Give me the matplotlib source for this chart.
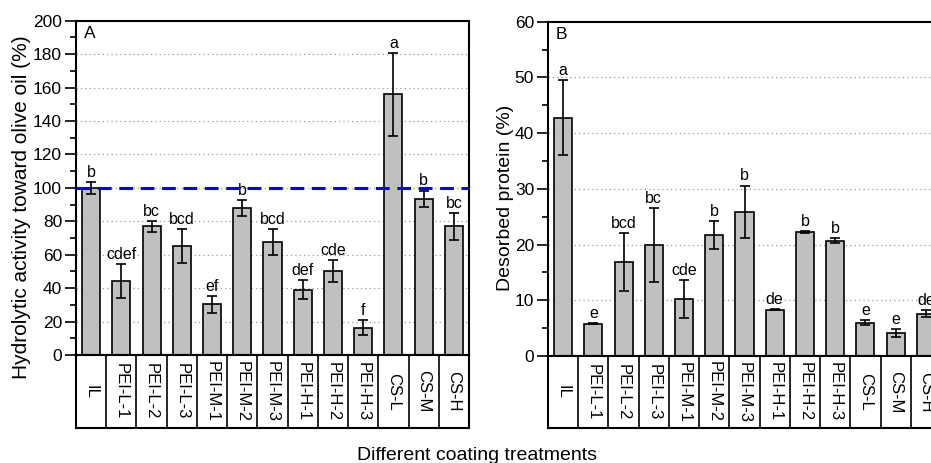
import matplotlib.pyplot as plt
import numpy as np
from matplotlib.ticker import MultipleLocator

plt.rcParams['font.family'] = ['Liberation Sans', 'DejaVu Sans']

treatments = ['IL', 'PEI-L-1', 'PEI-L-2', 'PEI-L-3', 'PEI-M-1', 'PEI-M-2', 'PEI-M-3',
              'PEI-H-1', 'PEI-H-2', 'PEI-H-3', 'CS-L', 'CS-M', 'CS-H']

# A: hydrolytic activity toward olive oil (%)
activity = [100, 44.3, 77, 65.3, 30.3, 88, 67.7, 39, 50.1, 16.4, 156, 93.6, 77]
activity_err = [3.5, 10, 3.2, 10, 5, 4.8, 7.6, 5.6, 6.6, 4.5, 24.7, 4.8, 8]
activity_sig = ['b', 'cdef', 'bc', 'bcd', 'ef', 'b', 'bcd', 'def', 'cde', 'f', 'a', 'b', 'bc']

# B: desorbed protein (%)
desorbed = [42.8, 5.8, 16.9, 19.9, 10.2, 21.7, 25.9, 8.3, 22.3, 20.7, 6.0, 4.1, 7.6]
desorbed_err = [6.8, 0.1, 5.2, 6.7, 3.4, 2.5, 4.7, 0.1, 0.2, 0.5, 0.5, 0.75, 0.6]
desorbed_sig = ['a', 'e', 'bcd', 'bc', 'cde', 'b', 'b', 'de', 'b', 'b', 'e', 'e', 'de']

W, H = 931, 463
fig = plt.figure(figsize=(W / 100, H / 100), dpi=100)


def panel(left_px, top_px, zero_px, values, errs, sig, ymax, major, minor, tag):
    x = np.arange(len(treatments))
    width_px = 393
    ax = fig.add_axes([left_px / W, 1 - zero_px / H, width_px / W, (zero_px - top_px) / H])
    ax.set_xlim(-0.5, len(treatments) - 0.5)
    ax.set_ylim(0, ymax)
    ax.yaxis.set_major_locator(MultipleLocator(major))
    ax.yaxis.set_minor_locator(MultipleLocator(minor))
    for y in np.arange(major, ymax, major):
        ax.axhline(y, color='#999999', lw=0.9, ls=(0, (1, 2.5)), zorder=0)
    ax.bar(x, values, width=0.6, color='#c0c0c0', edgecolor='black', linewidth=1.2, zorder=2)
    ax.errorbar(x, values, yerr=errs, fmt='none', ecolor='black', elinewidth=1.2,
                capsize=3.5, capthick=1.2, zorder=3)
    for xi, v, e, s in zip(x, values, errs, sig):
        ax.annotate(s, (xi, v + e), xytext=(0, 1.5), textcoords='offset points',
                    ha='center', va='bottom', fontsize=11.5)
    ax.set_xticks([])
    ax.tick_params(axis='y', which='major', direction='out', length=8, width=1.2, labelsize=12.5, pad=2)
    ax.tick_params(axis='y', which='minor', direction='out', length=4, width=1.2)
    for sp in ax.spines.values():
        sp.set_linewidth(1.5)
    ax.text(0.02, 0.985, tag, transform=ax.transAxes, ha='left', va='top', fontsize=12.5)

    # category table under the bars
    tab = fig.add_axes([left_px / W, 1 - 428 / H, width_px / W, (428 - zero_px) / H])
    tab.set_xlim(-0.5, len(treatments) - 0.5)
    tab.set_ylim(0, 1)
    tab.set_xticks([])
    tab.set_yticks([])
    for sp in tab.spines.values():
        sp.set_linewidth(1.5)
    for b in np.arange(0.5, len(treatments) - 0.5, 1):
        tab.axvline(b, color='black', lw=1.2)
    for xi, name in zip(x, treatments):
        tab.text(xi, 0.5, name, rotation=-90, ha='center', va='center', fontsize=12)
    return ax


axA = panel(76, 20.7, 355, activity, activity_err, activity_sig, 200, 20, 10, 'A')
axA.axhline(100, color='#0000ff', lw=2.2, ls=(0, (4.5, 2.5)), zorder=4)

axB = panel(548, 21.7, 356, desorbed, desorbed_err, desorbed_sig, 60, 10, 5, 'B')

fig.text(22 / W, 1 - 207 / H, 'Hydrolytic activity toward olive oil (%)', rotation=90,
         ha='center', va='center', fontsize=15)
fig.text(506 / W, 1 - 198 / H, 'Desorbed protein (%)', rotation=90,
         ha='center', va='center', fontsize=14)
fig.text(477 / W, 1 - 455 / H, 'Different coating treatments', ha='center', va='center', fontsize=14)

fig.savefig('out.png', dpi=100)
